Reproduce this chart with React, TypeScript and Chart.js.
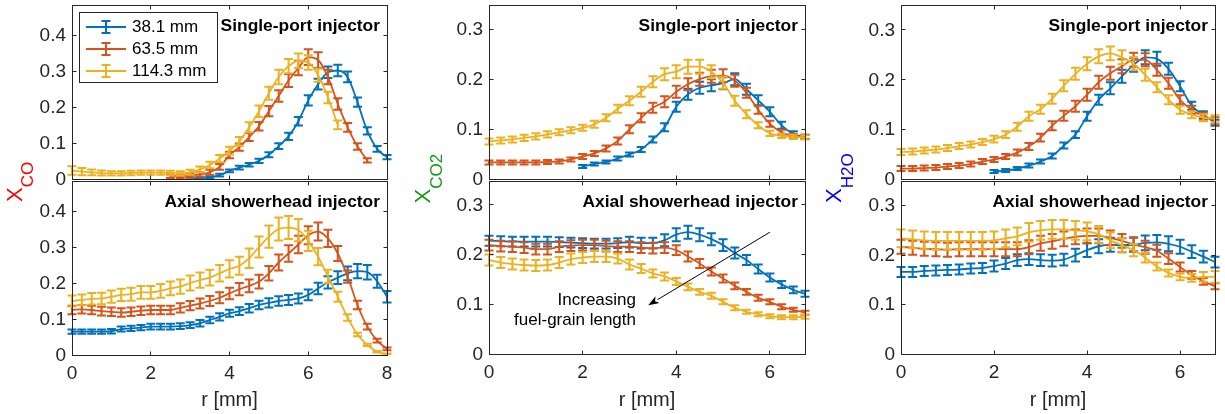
import React, { useEffect, useRef } from 'react';
import { Chart, registerables } from 'chart.js';

Chart.register(...registerables);

const W = 1225;
const H = 414;

// Radial positions (mm)
const rCO = [0, 0.25, 0.5, 0.75, 1, 1.25, 1.5, 1.75, 2, 2.25, 2.5, 2.75, 3, 3.25, 3.5, 3.75, 4, 4.25, 4.5, 4.75, 5, 5.25, 5.5, 5.75, 6, 6.25, 6.5, 6.75, 7, 7.25, 7.5, 7.75, 8];
const rShort = [0, 0.25, 0.5, 0.75, 1, 1.25, 1.5, 1.75, 2, 2.25, 2.5, 2.75, 3, 3.25, 3.5, 3.75, 4, 4.25, 4.5, 4.75, 5, 5.25, 5.5, 5.75, 6, 6.25, 6.5, 6.75];

const seriesLabels = ['38.1 mm', '63.5 mm', '114.3 mm'];
const seriesColors = ['#0072BD', '#D95319', '#EDB120'];

// Tick values
const xTicksCO = [0, 2, 4, 6, 8];
const xTicksShort = [0, 2, 4, 6];
const yTicksCO = [0, 0.1, 0.2, 0.3, 0.4];
const yTicksCO2 = [0, 0.1, 0.2, 0.3];
const yTicksH2O = [0, 0.1, 0.2, 0.3];

// X_CO, single-port injector
const coSingle381 = [null, null, null, null, null, null, null, null, null, null, null, null, 0.003, 0.004, 0.006, 0.012, 0.024, 0.033, 0.041, 0.052, 0.069, 0.093, 0.12, 0.162, 0.22, 0.265, 0.298, 0.303, 0.285, 0.215, 0.135, 0.085, 0.062];
const coSingle381Err = [null, null, null, null, null, null, null, null, null, null, null, null, 0.003, 0.003, 0.003, 0.004, 0.004, 0.005, 0.005, 0.006, 0.007, 0.008, 0.01, 0.012, 0.014, 0.015, 0.016, 0.016, 0.015, 0.013, 0.01, 0.008, 0.006];
const coSingle635 = [null, null, null, null, null, null, null, null, null, null, 0.01, 0.01, 0.011, 0.014, 0.02, 0.035, 0.068, 0.09, 0.118, 0.148, 0.19, 0.232, 0.275, 0.31, 0.34, 0.332, 0.285, 0.21, 0.145, 0.092, 0.053, null, null];
const coSingle635Err = [null, null, null, null, null, null, null, null, null, null, 0.006, 0.006, 0.006, 0.006, 0.007, 0.008, 0.009, 0.01, 0.011, 0.012, 0.014, 0.016, 0.018, 0.02, 0.022, 0.022, 0.02, 0.016, 0.012, 0.009, 0.006, null, null];
const coSingle1143 = [0.025, 0.022, 0.02, 0.018, 0.017, 0.017, 0.018, 0.019, 0.019, 0.019, 0.018, 0.017, 0.02, 0.028, 0.04, 0.058, 0.08, 0.106, 0.145, 0.19, 0.24, 0.285, 0.315, 0.33, 0.325, 0.29, 0.228, 0.152, null, null, null, null, null];
const coSingle1143Err = [0.012, 0.01, 0.008, 0.007, 0.006, 0.006, 0.006, 0.006, 0.006, 0.006, 0.006, 0.006, 0.007, 0.008, 0.009, 0.01, 0.011, 0.012, 0.014, 0.016, 0.018, 0.02, 0.02, 0.02, 0.02, 0.018, 0.016, 0.012, null, null, null, null, null];

// X_CO, axial showerhead injector
const coAxial381 = [0.065, 0.065, 0.065, 0.065, 0.066, 0.072, 0.074, 0.076, 0.079, 0.079, 0.079, 0.08, 0.083, 0.088, 0.097, 0.106, 0.116, 0.122, 0.13, 0.139, 0.145, 0.15, 0.153, 0.157, 0.167, 0.185, 0.202, 0.215, 0.227, 0.233, 0.23, 0.205, 0.162];
const coAxial381Err = [0.006, 0.006, 0.006, 0.006, 0.006, 0.007, 0.007, 0.007, 0.008, 0.008, 0.008, 0.008, 0.008, 0.009, 0.009, 0.01, 0.01, 0.011, 0.012, 0.012, 0.013, 0.013, 0.014, 0.014, 0.015, 0.016, 0.017, 0.018, 0.019, 0.02, 0.02, 0.018, 0.016];
const coAxial635 = [0.125, 0.127, 0.125, 0.122, 0.12, 0.118, 0.12, 0.123, 0.125, 0.125, 0.125, 0.131, 0.137, 0.143, 0.15, 0.159, 0.171, 0.183, 0.192, 0.204, 0.227, 0.257, 0.282, 0.307, 0.333, 0.343, 0.324, 0.282, 0.218, 0.139, 0.079, 0.04, 0.017];
const coAxial635Err = [0.012, 0.012, 0.012, 0.012, 0.012, 0.012, 0.012, 0.012, 0.012, 0.012, 0.012, 0.013, 0.013, 0.014, 0.014, 0.015, 0.016, 0.017, 0.018, 0.019, 0.02, 0.022, 0.023, 0.024, 0.025, 0.025, 0.024, 0.021, 0.017, 0.012, 0.008, 0.005, 0.004];
const coAxial1143 = [0.15, 0.153, 0.156, 0.157, 0.162, 0.167, 0.169, 0.174, 0.174, 0.178, 0.185, 0.19, 0.2, 0.208, 0.215, 0.227, 0.239, 0.248, 0.269, 0.3, 0.329, 0.35, 0.354, 0.347, 0.317, 0.273, 0.218, 0.162, 0.104, 0.057, 0.028, 0.009, 0.002];
const coAxial1143Err = [0.015, 0.015, 0.016, 0.016, 0.017, 0.017, 0.018, 0.018, 0.018, 0.019, 0.019, 0.02, 0.021, 0.021, 0.022, 0.023, 0.024, 0.025, 0.027, 0.029, 0.031, 0.032, 0.032, 0.031, 0.028, 0.024, 0.019, 0.014, 0.009, 0.005, 0.003, 0.002, 0.002];

// X_CO2, single-port injector
const co2Single381 = [null, null, null, null, null, null, null, null, 0.026, 0.031, 0.035, 0.042, 0.05, 0.06, 0.08, 0.104, 0.145, 0.17, 0.183, 0.188, 0.192, 0.2, 0.18, 0.158, 0.135, 0.108, 0.091, 0.085];
const co2Single381Err = [null, null, null, null, null, null, null, null, 0.003, 0.003, 0.003, 0.004, 0.004, 0.005, 0.006, 0.008, 0.01, 0.011, 0.012, 0.012, 0.012, 0.012, 0.011, 0.01, 0.009, 0.007, 0.005, 0.004];
const co2Single635 = [0.034, 0.034, 0.034, 0.034, 0.034, 0.035, 0.036, 0.04, 0.046, 0.052, 0.062, 0.077, 0.1, 0.123, 0.143, 0.155, 0.175, 0.19, 0.2, 0.206, 0.207, 0.197, 0.173, 0.139, 0.111, 0.094, 0.087, 0.085];
const co2Single635Err = [0.004, 0.004, 0.004, 0.004, 0.004, 0.004, 0.004, 0.004, 0.005, 0.005, 0.006, 0.007, 0.008, 0.009, 0.01, 0.011, 0.012, 0.012, 0.013, 0.013, 0.013, 0.012, 0.01, 0.008, 0.006, 0.005, 0.004, 0.004];
const co2Single1143 = [0.076, 0.078, 0.08, 0.083, 0.086, 0.09, 0.094, 0.098, 0.103, 0.11, 0.123, 0.141, 0.157, 0.175, 0.195, 0.21, 0.215, 0.225, 0.225, 0.215, 0.193, 0.157, 0.13, 0.108, 0.092, 0.087, 0.085, 0.084];
const co2Single1143Err = [0.006, 0.006, 0.006, 0.006, 0.006, 0.006, 0.006, 0.006, 0.006, 0.007, 0.007, 0.008, 0.009, 0.01, 0.011, 0.012, 0.013, 0.014, 0.014, 0.013, 0.012, 0.01, 0.008, 0.006, 0.005, 0.004, 0.004, 0.004];

// X_CO2, axial showerhead injector
const co2Axial381 = [0.228, 0.227, 0.226, 0.226, 0.226, 0.226, 0.225, 0.224, 0.223, 0.222, 0.222, 0.223, 0.225, 0.223, 0.223, 0.229, 0.24, 0.245, 0.24, 0.231, 0.219, 0.203, 0.189, 0.171, 0.154, 0.14, 0.129, 0.121];
const co2Axial381Err = [0.01, 0.01, 0.01, 0.01, 0.01, 0.01, 0.01, 0.01, 0.01, 0.01, 0.01, 0.01, 0.011, 0.011, 0.011, 0.012, 0.013, 0.013, 0.013, 0.012, 0.012, 0.011, 0.01, 0.009, 0.008, 0.007, 0.007, 0.006];
const co2Axial635 = [0.219, 0.217, 0.216, 0.214, 0.211, 0.211, 0.216, 0.218, 0.219, 0.219, 0.217, 0.216, 0.216, 0.214, 0.213, 0.214, 0.209, 0.196, 0.182, 0.166, 0.152, 0.137, 0.125, 0.113, 0.105, 0.095, 0.089, 0.083];
const co2Axial635Err = [0.011, 0.011, 0.011, 0.011, 0.011, 0.011, 0.011, 0.011, 0.011, 0.011, 0.011, 0.011, 0.011, 0.011, 0.011, 0.011, 0.01, 0.01, 0.009, 0.008, 0.008, 0.007, 0.006, 0.006, 0.005, 0.005, 0.004, 0.004];
const co2Axial1143 = [0.189, 0.184, 0.181, 0.179, 0.178, 0.179, 0.184, 0.191, 0.194, 0.196, 0.196, 0.192, 0.18, 0.172, 0.162, 0.156, 0.146, 0.135, 0.125, 0.117, 0.105, 0.093, 0.085, 0.08, 0.076, 0.074, 0.074, 0.075];
const co2Axial1143Err = [0.011, 0.011, 0.011, 0.011, 0.011, 0.011, 0.011, 0.011, 0.011, 0.011, 0.011, 0.01, 0.01, 0.009, 0.008, 0.008, 0.007, 0.007, 0.006, 0.006, 0.005, 0.005, 0.004, 0.004, 0.004, 0.004, 0.004, 0.004];

// X_H2O, single-port injector
const h2oSingle381 = [null, null, null, null, null, null, null, null, 0.016, 0.018, 0.022, 0.028, 0.036, 0.047, 0.068, 0.09, 0.127, 0.16, 0.183, 0.207, 0.23, 0.245, 0.242, 0.222, 0.187, 0.148, 0.13, 0.114];
const h2oSingle381Err = [null, null, null, null, null, null, null, null, 0.003, 0.003, 0.003, 0.004, 0.004, 0.005, 0.006, 0.007, 0.009, 0.01, 0.012, 0.013, 0.014, 0.014, 0.014, 0.012, 0.01, 0.008, 0.007, 0.006];
const h2oSingle635 = [0.022, 0.022, 0.023, 0.024, 0.026, 0.028, 0.031, 0.036, 0.04, 0.046, 0.054, 0.066, 0.084, 0.108, 0.128, 0.147, 0.17, 0.195, 0.213, 0.227, 0.24, 0.24, 0.22, 0.193, 0.16, 0.14, 0.127, 0.118];
const h2oSingle635Err = [0.005, 0.005, 0.005, 0.005, 0.005, 0.005, 0.005, 0.005, 0.005, 0.005, 0.006, 0.007, 0.008, 0.009, 0.01, 0.011, 0.012, 0.013, 0.013, 0.014, 0.014, 0.013, 0.012, 0.011, 0.009, 0.008, 0.007, 0.007];
const h2oSingle1143 = [0.055, 0.056, 0.058, 0.06, 0.063, 0.067, 0.07, 0.075, 0.081, 0.09, 0.106, 0.127, 0.141, 0.162, 0.188, 0.212, 0.232, 0.247, 0.253, 0.245, 0.232, 0.21, 0.185, 0.16, 0.14, 0.13, 0.124, 0.122];
const h2oSingle1143Err = [0.006, 0.006, 0.006, 0.006, 0.006, 0.006, 0.006, 0.006, 0.007, 0.007, 0.008, 0.009, 0.009, 0.01, 0.011, 0.012, 0.013, 0.014, 0.014, 0.014, 0.013, 0.012, 0.01, 0.009, 0.008, 0.007, 0.007, 0.007];

// X_H2O, axial showerhead injector
const h2oAxial381 = [0.166, 0.166, 0.168, 0.169, 0.17, 0.171, 0.173, 0.174, 0.178, 0.183, 0.19, 0.192, 0.19, 0.189, 0.191, 0.2, 0.21, 0.218, 0.221, 0.22, 0.221, 0.225, 0.226, 0.223, 0.217, 0.207, 0.197, 0.186];
const h2oAxial381Err = [0.01, 0.01, 0.01, 0.01, 0.01, 0.01, 0.01, 0.01, 0.011, 0.011, 0.012, 0.012, 0.012, 0.012, 0.012, 0.013, 0.014, 0.014, 0.014, 0.014, 0.014, 0.015, 0.015, 0.015, 0.014, 0.013, 0.012, 0.011];
const h2oAxial635 = [0.217, 0.215, 0.213, 0.212, 0.211, 0.212, 0.212, 0.212, 0.212, 0.212, 0.212, 0.216, 0.224, 0.228, 0.233, 0.237, 0.239, 0.239, 0.235, 0.229, 0.222, 0.216, 0.209, 0.193, 0.176, 0.16, 0.147, 0.137];
const h2oAxial635Err = [0.014, 0.014, 0.014, 0.014, 0.014, 0.014, 0.014, 0.014, 0.014, 0.014, 0.014, 0.014, 0.015, 0.015, 0.015, 0.015, 0.015, 0.015, 0.015, 0.014, 0.014, 0.013, 0.012, 0.011, 0.009, 0.008, 0.007, 0.006];
const h2oAxial1143 = [0.234, 0.232, 0.23, 0.229, 0.229, 0.229, 0.229, 0.229, 0.23, 0.234, 0.238, 0.246, 0.25, 0.252, 0.252, 0.25, 0.248, 0.242, 0.23, 0.22, 0.21, 0.195, 0.177, 0.164, 0.156, 0.154, 0.156, 0.156];
const h2oAxial1143Err = [0.018, 0.018, 0.018, 0.018, 0.018, 0.018, 0.018, 0.018, 0.018, 0.018, 0.018, 0.019, 0.019, 0.019, 0.019, 0.019, 0.018, 0.017, 0.016, 0.014, 0.012, 0.01, 0.008, 0.007, 0.007, 0.008, 0.01, 0.012];

// Annotation in the CO2 axial panel (data coordinates)
const arrowTail = [6.0, 0.245];
const arrowHead = [3.4, 0.098];
const arrowText = ['Increasing', 'fuel-grain length'];
const arrowTextAnchor = [3.14, 0.109, 0.068];

const FONT = '"Liberation Sans", Arial, Helvetica, sans-serif';
const AXIS_COLOR = '#262626';
const LINE_W = 1.8;
const BAR_W = 2;
const CAP = 4.5;

type Series = { label: string; color: string; values: (number | null)[]; errors: (number | null)[] };
type YTitle = { main: string; sub: string; color: string; x: number; y: number; shift: number };
type Panel = {
  left: number; right: number; top: number; bottom: number;
  r: number[]; xMax: number; yMax: number;
  xTicks: number[]; yTicks: number[];
  xLabels: boolean; title: string;
  series: Series[];
  legend?: boolean; yTitle?: YTitle; xTitle?: string; arrow?: boolean;
};

const mkSeries = (vals: (number | null)[][], errs: (number | null)[][]): Series[] =>
  vals.map((v, k) => ({ label: seriesLabels[k], color: seriesColors[k], values: v, errors: errs[k] }));

const PANELS: Panel[] = [
  {
    left: 72, right: 387, top: 5, bottom: 179.5, r: rCO, xMax: 8, yMax: 0.485,
    xTicks: xTicksCO, yTicks: yTicksCO, xLabels: false, title: 'Single-port injector',
    series: mkSeries([coSingle381, coSingle635, coSingle1143], [coSingle381Err, coSingle635Err, coSingle1143Err]),
    legend: true,
    yTitle: { main: 'X', sub: 'CO', color: '#ff0000', x: 22, y: 202, shift: 10.5 },
  },
  {
    left: 72, right: 387, top: 181.5, bottom: 355, r: rCO, xMax: 8, yMax: 0.482,
    xTicks: xTicksCO, yTicks: yTicksCO, xLabels: true, title: 'Axial showerhead injector',
    series: mkSeries([coAxial381, coAxial635, coAxial1143], [coAxial381Err, coAxial635Err, coAxial1143Err]),
    xTitle: 'r [mm]',
  },
  {
    left: 489, right: 805, top: 5, bottom: 179.5, r: rShort, xMax: 6.75, yMax: 0.348,
    xTicks: xTicksShort, yTicks: yTicksCO2, xLabels: false, title: 'Single-port injector',
    series: mkSeries([co2Single381, co2Single635, co2Single1143], [co2Single381Err, co2Single635Err, co2Single1143Err]),
    yTitle: { main: 'X', sub: 'CO2', color: '#159a15', x: 430, y: 203.5, shift: 12 },
  },
  {
    left: 489, right: 805, top: 181.5, bottom: 354, r: rShort, xMax: 6.75, yMax: 0.347,
    xTicks: xTicksShort, yTicks: yTicksCO2, xLabels: true, title: 'Axial showerhead injector',
    series: mkSeries([co2Axial381, co2Axial635, co2Axial1143], [co2Axial381Err, co2Axial635Err, co2Axial1143Err]),
    xTitle: 'r [mm]', arrow: true,
  },
  {
    left: 901, right: 1215, top: 5, bottom: 179.5, r: rShort, xMax: 6.75, yMax: 0.35,
    xTicks: xTicksShort, yTicks: yTicksH2O, xLabels: false, title: 'Single-port injector',
    series: mkSeries([h2oSingle381, h2oSingle635, h2oSingle1143], [h2oSingle381Err, h2oSingle635Err, h2oSingle1143Err]),
    yTitle: { main: 'X', sub: 'H2O', color: '#0000ff', x: 841, y: 203, shift: 12 },
  },
  {
    left: 901, right: 1215, top: 181.5, bottom: 354, r: rShort, xMax: 6.75, yMax: 0.349,
    xTicks: xTicksShort, yTicks: yTicksH2O, xLabels: true, title: 'Axial showerhead injector',
    series: mkSeries([h2oAxial381, h2oAxial635, h2oAxial1143], [h2oAxial381Err, h2oAxial635Err, h2oAxial1143Err]),
    xTitle: 'r [mm]',
  },
];

const snap = (v: number) => Math.floor(v) + 0.5;

function drawErrorBar(ctx: CanvasRenderingContext2D, x: number, y1: number, y2: number, cap: number) {
  ctx.beginPath();
  ctx.moveTo(x, y1);
  ctx.lineTo(x, y2);
  ctx.moveTo(x - cap, y1);
  ctx.lineTo(x + cap, y1);
  ctx.moveTo(x - cap, y2);
  ctx.lineTo(x + cap, y2);
  ctx.stroke();
}

function panelPlugin(p: Panel) {
  return {
    id: 'panelFrame',
    afterDatasetDraw(chart: any, args: any) {
      const ds = chart.data.datasets[args.index];
      const errs: (number | null)[] = ds.errors;
      if (!errs) return;
      const xs = chart.scales.x;
      const ys = chart.scales.y;
      const ca = chart.chartArea;
      const ctx: CanvasRenderingContext2D = chart.ctx;
      ctx.save();
      ctx.beginPath();
      ctx.rect(ca.left - 10, ca.top, ca.right - ca.left + 20, ca.bottom - ca.top);
      ctx.clip();
      ctx.strokeStyle = ds.borderColor;
      ctx.lineWidth = BAR_W;
      ds.data.forEach((pt: { x: number; y: number | null }, i: number) => {
        const e = errs[i];
        if (pt.y == null || e == null) return;
        const px = xs.getPixelForValue(pt.x);
        drawErrorBar(ctx, px, ys.getPixelForValue(pt.y - e), ys.getPixelForValue(pt.y + e), CAP);
      });
      ctx.restore();
    },
    afterDraw(chart: any) {
      const ctx: CanvasRenderingContext2D = chart.ctx;
      const xs = chart.scales.x;
      const ys = chart.scales.y;
      const ca = chart.chartArea;
      const L = snap(ca.left), R = snap(ca.right), T = snap(ca.top), B = snap(ca.bottom);
      ctx.save();

      // axes box with inward ticks on all four sides
      ctx.strokeStyle = AXIS_COLOR;
      ctx.lineWidth = 1;
      ctx.strokeRect(L, T, R - L, B - T);
      ctx.beginPath();
      p.xTicks.forEach((v) => {
        const px = snap(xs.getPixelForValue(v));
        ctx.moveTo(px, B); ctx.lineTo(px, B - 4);
        ctx.moveTo(px, T); ctx.lineTo(px, T + 4);
      });
      p.yTicks.forEach((v) => {
        const py = snap(ys.getPixelForValue(v));
        ctx.moveTo(L, py); ctx.lineTo(L + 4, py);
        ctx.moveTo(R, py); ctx.lineTo(R - 4, py);
      });
      ctx.stroke();

      // tick labels
      ctx.fillStyle = AXIS_COLOR;
      ctx.font = `19px ${FONT}`;
      ctx.textAlign = 'right';
      ctx.textBaseline = 'middle';
      p.yTicks.forEach((v) => {
        ctx.fillText(String(v), ca.left - 6, ys.getPixelForValue(v) + 0.5);
      });
      if (p.xLabels) {
        ctx.textAlign = 'center';
        p.xTicks.forEach((v) => {
          ctx.fillText(String(v), xs.getPixelForValue(v), ca.bottom + 19);
        });
      }
      if (p.xTitle) {
        ctx.font = `20px ${FONT}`;
        ctx.textAlign = 'center';
        ctx.textBaseline = 'alphabetic';
        ctx.fillText(p.xTitle, (ca.left + ca.right) / 2, 406);
      }

      // panel title
      ctx.fillStyle = '#000';
      ctx.font = `bold 17.4px ${FONT}`;
      ctx.textAlign = 'right';
      ctx.textBaseline = 'middle';
      ctx.fillText(p.title, ca.right - 7, ca.top + 21);

      // y-axis title with subscript, rotated
      if (p.yTitle) {
        const t = p.yTitle;
        ctx.save();
        ctx.translate(t.x, t.y);
        ctx.rotate(-Math.PI / 2);
        ctx.fillStyle = t.color;
        ctx.textAlign = 'left';
        ctx.textBaseline = 'alphabetic';
        ctx.font = `22px ${FONT}`;
        ctx.fillText(t.main, 0, 0);
        const w = ctx.measureText(t.main).width;
        ctx.font = `17px ${FONT}`;
        ctx.fillText(t.sub, w, t.shift);
        ctx.restore();
      }

      // legend
      if (p.legend) {
        ctx.fillStyle = '#fff';
        ctx.fillRect(79.5, 12.5, 138, 70);
        ctx.strokeStyle = AXIS_COLOR;
        ctx.lineWidth = 1;
        ctx.strokeRect(79.5, 12.5, 138, 70);
        p.series.forEach((s, k) => {
          const y = 27 + 22 * k;
          ctx.strokeStyle = s.color;
          ctx.lineWidth = LINE_W;
          ctx.beginPath();
          ctx.moveTo(86, y);
          ctx.lineTo(126, y);
          ctx.stroke();
          ctx.lineWidth = BAR_W;
          drawErrorBar(ctx, 106, y - 6, y + 6, CAP);
          ctx.fillStyle = '#000';
          ctx.font = `17px ${FONT}`;
          ctx.textAlign = 'left';
          ctx.textBaseline = 'middle';
          ctx.fillText(s.label, 132, y + 0.5);
        });
      }

      // arrow annotation
      if (p.arrow) {
        const x1 = xs.getPixelForValue(arrowTail[0]);
        const y1 = ys.getPixelForValue(arrowTail[1]);
        const x2 = xs.getPixelForValue(arrowHead[0]);
        const y2 = ys.getPixelForValue(arrowHead[1]);
        const ang = Math.atan2(y2 - y1, x2 - x1);
        const hl = 11, hw = 4;
        const bx = x2 - hl * Math.cos(ang);
        const by = y2 - hl * Math.sin(ang);
        ctx.strokeStyle = '#000';
        ctx.lineWidth = 1;
        ctx.beginPath();
        ctx.moveTo(x1, y1);
        ctx.lineTo(bx, by);
        ctx.stroke();
        ctx.fillStyle = '#000';
        ctx.beginPath();
        ctx.moveTo(x2, y2);
        ctx.lineTo(bx + hw * Math.sin(ang), by - hw * Math.cos(ang));
        ctx.lineTo(bx + 3 * Math.cos(ang), by + 3 * Math.sin(ang));
        ctx.lineTo(bx - hw * Math.sin(ang), by + hw * Math.cos(ang));
        ctx.closePath();
        ctx.fill();
        ctx.font = `17px ${FONT}`;
        ctx.textAlign = 'right';
        ctx.textBaseline = 'middle';
        const tx = xs.getPixelForValue(arrowTextAnchor[0]);
        ctx.fillText(arrowText[0], tx, ys.getPixelForValue(arrowTextAnchor[1]));
        ctx.fillText(arrowText[1], tx, ys.getPixelForValue(arrowTextAnchor[2]));
      }

      ctx.restore();
    },
  };
}

function makeChart(canvas: HTMLCanvasElement, p: Panel) {
  return new Chart(canvas, {
    type: 'line',
    data: {
      datasets: p.series.map((s, k) => ({
        label: s.label,
        data: p.r.map((x, i) => ({ x, y: s.values[i] })),
        errors: s.errors,
        borderColor: s.color,
        backgroundColor: s.color,
        borderWidth: LINE_W,
        pointRadius: 0,
        cubicInterpolationMode: 'monotone',
        spanGaps: false,
        fill: false,
        order: 3 - k,
      })) as any,
    },
    options: {
      animation: false,
      responsive: false,
      events: [],
      layout: { padding: { left: p.left, top: p.top, right: W - p.right, bottom: H - p.bottom } },
      scales: {
        x: { type: 'linear', min: 0, max: p.xMax, display: false },
        y: { type: 'linear', min: 0, max: p.yMax, display: false },
      },
      plugins: { legend: { display: false }, tooltip: { enabled: false } },
    },
    plugins: [panelPlugin(p) as any],
  });
}

export default function App() {
  const refs = useRef<(HTMLCanvasElement | null)[]>([]);

  useEffect(() => {
    const charts = PANELS.map((p, i) => makeChart(refs.current[i] as HTMLCanvasElement, p));
    return () => charts.forEach((c) => c.destroy());
  }, []);

  return (
    <div style={{ position: 'absolute', left: 0, top: 0, width: W, height: H, background: '#fff' }}>
      {PANELS.map((_, i) => (
        <canvas
          key={i}
          ref={(el) => { refs.current[i] = el; }}
          width={W}
          height={H}
          style={{ position: 'absolute', left: 0, top: 0, width: W, height: H }}
        />
      ))}
    </div>
  );
}
